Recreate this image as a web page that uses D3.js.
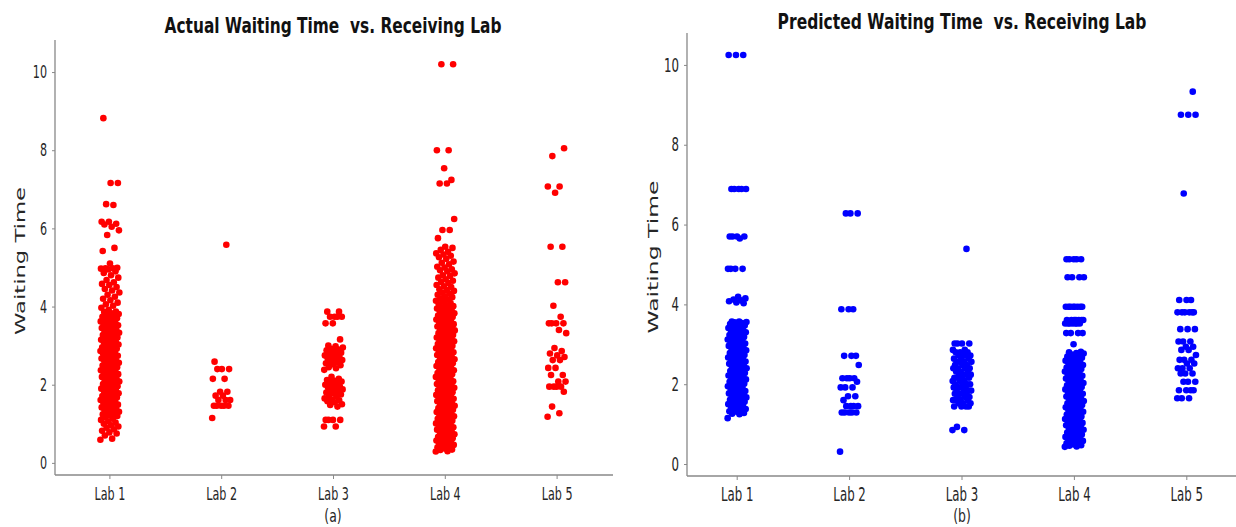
<!DOCTYPE html>
<html lang="en">
<head>
<meta charset="UTF-8">
<title>Waiting Time vs. Receiving Lab</title>
<script src="https://d3js.org/d3.v7.min.js"></script>
<style>
  body { margin: 0; background: #fff; }
  text { font-family: "DejaVu Sans", sans-serif; }
</style>
</head>
<body>
<svg></svg>
<script>
const W = 1236, H = 527;

const labs = ["Lab 1", "Lab 2", "Lab 3", "Lab 4", "Lab 5"];
const yTicks = [0, 2, 4, 6, 8, 10];

// actual waiting time, one list per lab
const actualLab1 = [0.59,0.62,0.7,0.75,0.78,0.82,0.86,0.9,0.93,0.96,1.0,1.03,1.06,1.1,1.13,1.16,
  1.2,1.21,1.24,1.27,1.28,1.31,1.33,1.36,1.37,1.4,1.42,1.45,1.46,1.49,1.52,1.53,1.56,1.58,1.61,1.62,1.65,1.67,1.7,1.71,1.74,1.77,1.78,1.81,1.83,1.86,1.87,1.9,1.92,1.95,1.96,1.99,2.02,2.03,2.06,2.08,2.11,2.12,2.15,2.17,2.2,2.21,2.24,2.27,2.28,2.31,2.33,2.36,2.37,2.4,2.42,2.45,2.46,2.49,2.52,2.53,2.56,2.58,2.61,2.62,2.65,2.67,2.7,2.71,2.74,2.77,2.78,2.81,2.83,2.86,2.87,2.9,2.92,2.95,2.96,2.99,3.02,3.03,3.06,3.08,3.11,3.12,3.15,3.17,3.2,3.21,3.24,3.27,3.28,3.31,3.33,3.36,3.37,3.4,3.42,3.45,3.46,3.49,3.52,3.53,3.56,3.58,3.61,3.62,3.65,3.67,3.7,3.71,3.74,3.77,3.78,3.81,3.83,3.86,3.87,
  3.92,3.97,4.02,4.06,4.1,4.16,4.2,4.25,4.3,4.36,4.41,4.45,4.5,4.55,4.58,4.62,4.68,4.74,4.8,4.86,4.9,4.95,4.97,4.98,4.98,4.99,
  5.1,5.42,5.5,5.83,5.95,6.04,6.1,6.12,6.17,6.17,6.6,6.62,7.16,7.16,8.82];
const actualLab2 = [1.15,1.46,1.46,1.46,1.46,1.46,1.61,1.61,1.61,1.72,1.72,1.82,1.82,2.15,2.15,2.4,2.4,2.4,2.59,5.58];
const actualLab3 = [0.93,0.93,1.1,1.1,1.1,1.1,
  1.44,1.48,1.5,1.55,1.58,1.6,1.62,1.65,1.7,1.72,1.75,1.78,1.8,1.83,1.85,1.88,1.9,1.92,1.95,1.98,2.0,2.02,2.05,2.08,2.1,2.12,2.15,2.2,
  2.38,2.42,2.45,2.5,2.52,2.55,2.58,2.6,2.63,2.65,2.68,2.7,2.72,2.75,2.78,2.8,2.82,2.85,2.88,2.9,2.92,2.95,2.98,3.0,
  3.16,3.57,3.57,3.74,3.74,3.74,3.74,3.87,3.87];
const actualLab4 = [0.29,0.3,0.33,0.34,0.37,0.4,0.41,0.44,0.46,0.47,0.5,0.53,0.54,0.57,0.58,0.61,0.63,0.66,0.67,0.7,0.72,0.73,0.76,0.79,0.8,0.83,0.85,0.86,0.89,0.91,0.94,0.95,0.98,1.0,1.01,1.04,1.07,1.08,1.11,1.13,1.14,1.17,1.19,1.22,1.23,1.26,1.28,1.3,1.31,1.34,1.36,1.39,1.4,1.43,1.45,1.46,1.49,1.52,1.53,1.56,1.58,1.59,1.62,1.64,1.67,1.68,1.71,1.73,1.74,1.77,1.8,1.81,1.84,1.86,1.87,1.9,1.92,1.95,1.96,1.99,2.01,2.02,2.05,2.08,2.09,2.12,2.14,2.15,2.18,2.2,2.23,2.24,2.27,2.29,2.3,2.33,2.36,2.37,2.4,2.42,2.43,2.46,2.48,2.51,2.52,2.55,2.57,2.58,2.61,2.64,2.65,2.68,2.7,2.71,2.74,2.76,2.79,2.8,2.83,2.85,2.86,2.89,2.92,2.93,2.96,2.98,2.99,3.02,3.04,3.07,3.08,3.11,3.13,3.14,3.17,3.2,3.21,3.24,3.26,3.27,3.3,3.32,3.35,3.36,3.39,3.41,3.42,3.45,3.48,3.49,3.52,3.54,3.55,3.58,3.6,3.63,3.64,3.67,3.69,3.7,3.73,3.76,3.77,3.8,3.82,3.83,3.86,3.88,3.91,3.92,3.95,3.97,3.98,4.01,4.04,4.06,4.09,
  4.12,4.15,4.18,4.2,4.24,4.26,4.3,4.33,4.35,4.4,4.42,4.44,4.5,4.52,4.55,4.6,4.63,4.66,4.7,4.74,4.78,4.8,4.85,4.9,4.93,4.95,5.0,5.02,5.08,5.12,5.15,5.22,5.26,5.3,5.33,5.36,5.4,5.45,5.5,5.53,
  5.75,5.96,5.96,6.24,7.15,7.15,7.24,7.54,8.0,8.0,10.2,10.2];
const actualLab5 = [1.18,1.27,1.44,1.82,1.95,1.95,1.95,1.95,2.08,2.08,2.25,2.25,2.43,2.43,2.63,2.63,2.71,2.75,2.8,2.86,2.94,3.32,3.4,3.57,3.57,3.57,3.57,3.74,4.02,4.62,4.62,5.53,5.53,6.91,7.07,7.07,7.85,8.05];

// predicted waiting time, one list per lab
const predLab1 = [1.15,
  1.25,1.26,1.28,1.31,1.32,1.35,1.37,1.38,1.41,1.43,1.46,1.47,1.5,1.52,1.53,1.56,1.58,1.61,1.62,1.65,1.67,1.68,1.71,1.73,1.76,1.77,1.8,1.82,1.83,1.86,1.88,1.91,1.92,1.95,1.97,1.98,2.01,2.03,2.06,2.07,2.1,2.12,2.13,2.16,2.18,2.21,2.22,2.25,2.27,2.28,2.31,2.33,2.36,2.37,2.4,2.42,2.43,2.46,2.48,2.51,2.52,2.55,2.57,2.58,2.61,2.63,2.66,2.67,2.7,2.72,2.73,2.76,2.78,2.81,2.82,2.85,2.87,2.88,2.91,2.93,2.96,2.97,3.0,3.02,3.03,3.06,3.08,3.11,3.12,3.15,3.17,3.18,3.21,3.23,3.26,3.27,3.3,3.32,3.33,3.36,3.38,3.41,3.42,3.45,3.47,3.48,3.51,3.53,3.55,3.56,3.57,3.57,
  4.03,4.05,4.08,4.1,4.12,4.15,4.19,4.89,4.89,4.89,4.89,5.65,5.7,5.7,5.7,5.7,6.89,6.89,6.89,6.89,6.89,10.25,10.25,10.25];
const predLab2 = [0.31,1.29,1.29,1.29,1.29,1.29,1.45,1.45,1.45,1.45,1.6,1.7,1.7,1.92,1.92,1.92,2.06,2.15,2.15,2.15,2.15,2.48,2.71,2.71,2.71,3.88,3.88,3.88,6.28,6.28,6.28];
const predLab3 = [0.85,0.85,0.93,1.44,1.44,1.44,1.44,1.52,1.52,1.52,1.6,1.6,1.6,1.6,1.68,1.68,1.68,1.76,1.76,1.76,1.76,1.84,1.84,1.84,1.84,1.92,1.92,1.92,1.92,2.0,2.0,2.0,2.0,2.08,2.08,2.08,2.16,2.16,2.16,2.16,2.24,2.24,2.24,2.24,2.32,2.32,2.32,2.4,2.4,2.4,2.4,2.48,2.48,2.48,2.56,2.56,2.56,2.56,2.64,2.64,2.64,2.72,2.72,2.72,2.72,2.8,2.8,2.8,2.86,2.86,3.02,3.02,3.02,3.02,5.39];
const predLab4 = [0.43,0.44,0.46,0.47,0.49,0.52,0.53,0.56,0.58,0.59,0.62,0.64,0.67,0.68,0.71,0.73,0.74,0.77,0.79,0.82,0.83,0.86,0.88,0.89,0.92,0.94,0.97,0.98,1.01,1.03,1.04,1.07,1.09,1.12,1.13,1.16,1.18,1.19,1.22,1.24,1.27,1.28,1.31,1.33,1.34,1.37,1.39,1.42,1.43,1.46,1.48,1.49,1.52,1.54,1.57,1.58,1.61,1.63,1.64,1.67,1.69,1.72,1.73,1.76,1.78,1.79,1.82,1.84,1.87,1.88,1.91,1.93,1.94,1.97,1.99,2.02,2.03,2.06,2.08,2.09,2.12,2.14,2.17,2.18,2.21,2.23,2.24,2.27,2.29,2.32,2.33,2.36,2.38,2.39,2.42,2.44,2.47,2.48,2.51,2.53,2.54,2.57,2.59,2.62,2.63,2.66,2.68,2.69,2.72,2.74,2.77,2.78,2.8,2.81,
  3.0,3.28,3.28,3.28,3.28,3.52,3.52,3.52,3.52,3.52,3.52,3.52,3.61,3.61,3.61,3.61,3.61,3.61,3.61,3.94,3.94,3.94,3.94,3.94,3.94,3.94,3.94,4.68,4.68,4.68,4.68,5.13,5.13,5.13,5.13,5.13];
const predLab5 = [1.65,1.65,1.65,1.85,1.85,1.85,1.85,2.06,2.06,2.06,2.27,2.27,2.27,2.4,2.4,2.4,2.52,2.52,2.61,2.61,2.61,2.73,2.86,2.86,2.94,2.94,3.07,3.07,3.07,3.38,3.38,3.38,3.8,3.8,3.8,3.8,3.8,3.8,4.11,4.11,4.11,6.78,8.75,8.75,8.75,9.33];

const actual = [actualLab1, actualLab2, actualLab3, actualLab4, actualLab5];
const predicted = [predLab1, predLab2, predLab3, predLab4, predLab5];

const svg = d3.select("svg").attr("width", W).attr("height", H);
const SX = 0.62; // the original figure is squeezed horizontally

// golden-ratio spread for the strip jitter
const jit = i => ((i * 0.6180339887) % 1) * 2 - 1;

// squeeze a text horizontally (in screen space) to a given width
function fitWidth(sel, cx, cy, len, rotated) {
  const natural = sel.node().getComputedTextLength();
  const k = len / natural;
  if (rotated) sel.attr("transform", `translate(${cx},${cy}) scale(0.66,${k}) rotate(-90)`);
  else sel.attr("transform", `translate(${cx},${cy}) scale(${k},1)`);
}

function panel(p) {
  const g = svg.append("g");
  const x = d3.scaleBand().domain(labs).range([p.x0, p.x1]);
  const y = d3.scaleLinear().domain(p.yDomain).range([p.yBottom, p.yTop]);
  const bw = x.bandwidth();

  const pts = [];
  p.series.forEach((vals, k) => vals.forEach((v, i) => pts.push({lab: labs[k], v, i})));

  g.selectAll("circle").data(pts).enter().append("circle")
    .attr("cx", d => x(d.lab) + bw / 2 + jit(d.i) * bw * 0.085)
    .attr("cy", d => y(d.v))
    .attr("r", 3.3)
    .attr("fill", p.color);

  // y axis
  const ya = g.append("g").attr("transform", `translate(${p.spineX},0)`)
    .call(d3.axisLeft(y).tickValues(yTicks).tickSize(3).tickPadding(4));
  ya.select(".domain").remove();
  ya.selectAll(".tick line").attr("stroke", "#888");
  ya.selectAll(".tick text")
    .attr("font-size", p.tickFont).attr("fill", "#262626")
    .attr("transform", `scale(${SX},1)`).attr("x", -8 / SX);

  // x axis
  const xa = g.append("g").attr("transform", `translate(0,${p.yBottom})`)
    .call(d3.axisBottom(x).tickSize(4).tickPadding(4));
  xa.select(".domain").remove();
  xa.selectAll(".tick line").attr("stroke", "#888");
  xa.selectAll(".tick text")
    .attr("font-size", p.tickFont).attr("fill", "#262626")
    .attr("transform", `scale(${SX},1)`).attr("y", 12);

  // spines
  g.append("line").attr("x1", p.spineX).attr("x2", p.spineX)
    .attr("y1", p.yTop).attr("y2", p.yBottom).attr("stroke", "#888").attr("stroke-width", 1.3);
  g.append("line").attr("x1", p.spineX).attr("x2", Math.min(p.x1, W))
    .attr("y1", p.yBottom).attr("y2", p.yBottom).attr("stroke", "#888").attr("stroke-width", 1.3);

  // title
  const title = g.append("text")
    .attr("text-anchor", "middle").attr("font-weight", "bold").attr("font-size", 21)
    .attr("fill", "#111").style("white-space", "pre")
    .text(p.title);
  fitWidth(title, p.titleX, p.titleY, p.titleLen, false);

  // y label
  const ylab = g.append("text")
    .attr("text-anchor", "middle").attr("font-size", 21).attr("fill", "#262626")
    .text("Waiting Time");
  fitWidth(ylab, p.ylabX, p.ylabY, p.ylabLen, true);

  // panel letter
  g.append("text")
    .attr("transform", `translate(${p.letterX},${p.letterY}) scale(${SX + 0.07},1)`)
    .attr("text-anchor", "middle").attr("font-size", 18).attr("fill", "#262626")
    .text(p.letter);
}

panel({
  series: actual, color: "#ff0000",
  x0: 54, x1: 613, spineX: 55, yTop: 40, yBottom: 475, yDomain: [-0.31, 10.82],
  tickFont: 18,
  title: "Actual Waiting Time  vs. Receiving Lab", titleX: 333, titleY: 33, titleLen: 337,
  ylabX: 25, ylabY: 261, ylabLen: 148,
  letter: "(a)", letterX: 333, letterY: 522
});

panel({
  series: predicted, color: "#0000ff",
  x0: 681, x1: 1243, spineX: 687, yTop: 33, yBottom: 476, yDomain: [-0.3, 10.8],
  tickFont: 19,
  title: "Predicted Waiting Time  vs. Receiving Lab", titleX: 962, titleY: 29, titleLen: 369,
  ylabX: 658, ylabY: 257, ylabLen: 153,
  letter: "(b)", letterX: 962, letterY: 522
});
</script>
</body>
</html>
